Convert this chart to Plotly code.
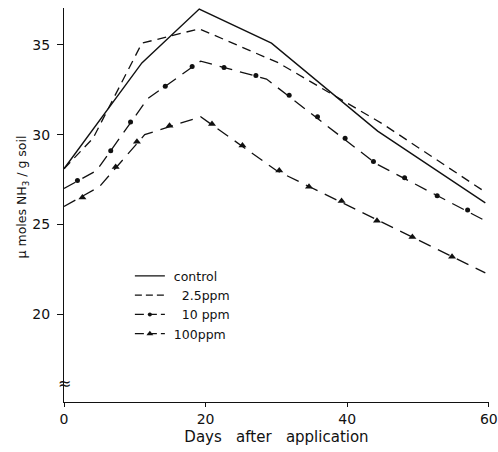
import plotly.graph_objects as go

# Data
ctrl_x = [0, 11.0, 19.1, 29.3, 44.3, 59.5]
ctrl_y = [28.1, 34.0, 37.0, 35.1, 30.2, 26.2]

p25_x = [0, 4.1, 11.0, 19.1, 30.3, 45.0, 59.5]
p25_y = [28.1, 29.8, 35.1, 35.9, 34.0, 30.6, 26.8]

p10_x = [0, 4.6, 11.8, 19.3, 28.6, 44.0, 59.5]
p10_y = [27.0, 28.0, 32.0, 34.1, 33.1, 28.4, 25.2]
p10_mx = [1.9, 6.6, 9.4, 14.3, 18.1, 22.6, 27.1, 31.8, 35.8, 39.7, 43.7, 48.1, 52.7, 57.0]
p10_my = [27.45, 29.1, 30.7, 32.7, 33.8, 33.75, 33.3, 32.2, 31.0, 29.8, 28.5, 27.6, 26.6, 25.8]

p100_x = [0, 5.0, 11.4, 19.3, 30.0, 59.5]
p100_y = [26.0, 27.1, 30.0, 31.0, 28.0, 22.3]
p100_mx = [2.6, 7.3, 10.3, 14.9, 20.9, 25.2, 30.4, 34.6, 39.2, 44.2, 49.2, 54.8]
p100_my = [26.5, 28.2, 29.6, 30.5, 30.6, 29.4, 28.0, 27.1, 26.3, 25.2, 24.3, 23.2]

x_ticks = [0, 20, 40, 60]
y_ticks = [20, 25, 30, 35]
legend_names = ["\u00a0control", "\u00a0\u00a0\u00a02.5ppm", "\u00a0\u00a0\u00a010 ppm", "\u00a0100ppm"]

FONT = "DejaVu Sans"
BLACK = "#111111"

fig = go.Figure()

fig.add_trace(go.Scatter(x=ctrl_x, y=ctrl_y, mode="lines",
                         line=dict(color=BLACK, width=1.4), showlegend=False))
fig.add_trace(go.Scatter(x=p25_x, y=p25_y, mode="lines",
                         line=dict(color=BLACK, width=1.3, dash="9px,6px"), showlegend=False))
fig.add_trace(go.Scatter(x=p10_x, y=p10_y, mode="lines",
                         line=dict(color=BLACK, width=1.3, dash="13px,8px"), showlegend=False))
fig.add_trace(go.Scatter(x=p10_mx, y=p10_my, mode="markers",
                         marker=dict(color=BLACK, size=5, symbol="circle"), showlegend=False))
fig.add_trace(go.Scatter(x=p100_x, y=p100_y, mode="lines",
                         line=dict(color=BLACK, width=1.3, dash="13px,8px"), showlegend=False))
fig.add_trace(go.Scatter(x=p100_mx, y=p100_my, mode="markers",
                         marker=dict(color=BLACK, size=7, symbol="triangle-up"), showlegend=False))

# legend-only entries
fig.add_trace(go.Scatter(x=[None], y=[None], mode="lines", name=legend_names[0],
                         line=dict(color=BLACK, width=1.2)))
fig.add_trace(go.Scatter(x=[None], y=[None], mode="lines", name=legend_names[1],
                         line=dict(color=BLACK, width=1.2, dash="7px,4px")))
fig.add_trace(go.Scatter(x=[None], y=[None], mode="lines+markers", name=legend_names[2],
                         line=dict(color=BLACK, width=1.2, dash="9px,4px"),
                         marker=dict(color=BLACK, size=4, symbol="circle")))
fig.add_trace(go.Scatter(x=[None], y=[None], mode="lines+markers", name=legend_names[3],
                         line=dict(color=BLACK, width=1.2, dash="9px,4px"),
                         marker=dict(color=BLACK, size=6, symbol="triangle-up")))

fig.update_layout(
    width=498, height=452,
    margin=dict(l=64, r=9, t=8, b=50, autoexpand=False),
    plot_bgcolor="white", paper_bgcolor="white",
    font=dict(family=FONT, color=BLACK, size=14),
    legend=dict(x=0.155, y=0.357, xanchor="left", yanchor="top",
                bgcolor="rgba(0,0,0,0)", font=dict(size=12.5, family=FONT),
                itemwidth=30),
    xaxis=dict(range=[0, 60.02], tickvals=x_ticks, showline=True, linecolor=BLACK,
               linewidth=1.2, ticks="outside", ticklen=4, tickcolor=BLACK,
               showgrid=False, zeroline=False, tickfont=dict(size=14),
               ticklabeloverflow="allow", automargin=False,
               title=dict(text="Days   after   application", font=dict(size=15), standoff=5)),
    yaxis=dict(range=[15.1, 37.06], tickvals=y_ticks, showline=True, linecolor=BLACK,
               linewidth=1.2, ticks="outside", ticklen=6, tickcolor=BLACK,
               showgrid=False, zeroline=False, tickfont=dict(size=14),
               ticklabelstandoff=4, automargin=False),
    annotations=[
        dict(text="\u03bc moles NH<sub>3</sub> / g soil", textangle=-90,
             xref="paper", yref="paper", x=-0.098, y=0.52, xanchor="center",
             yanchor="middle", showarrow=False, font=dict(size=12.5, family=FONT)),
        dict(text="\u2248", xref="x", yref="y", x=0, y=16.15, showarrow=False,
             font=dict(size=16, family=FONT)),
    ],
)

fig.write_html("out.html")
